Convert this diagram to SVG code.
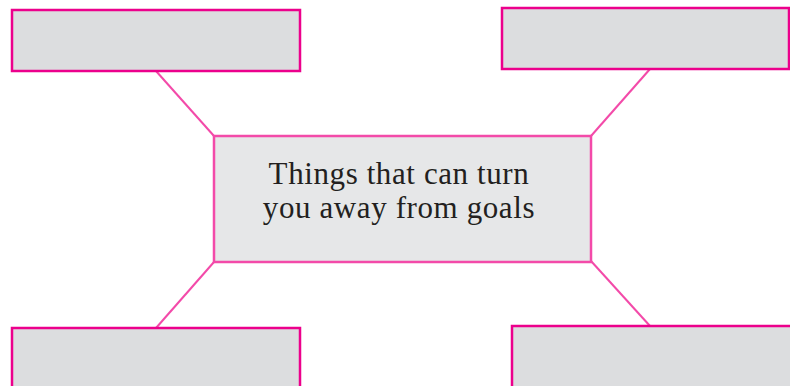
<svg xmlns="http://www.w3.org/2000/svg" width="790" height="386" viewBox="0 0 790 386">
<style>
.box{fill:#dcdddf;stroke:#ec008c;stroke-width:2.5}
.center{fill:#e6e7e8;stroke:#f34aa9;stroke-width:2.5}
.conn{stroke:#f34aa9;stroke-width:2;fill:none}
.label{font-family:"Liberation Serif","Times New Roman",serif;font-size:31px;letter-spacing:0.6px;fill:#231f20;text-anchor:middle}
</style>
<rect width="790" height="386" fill="#ffffff"/>
<g id="connectors">
<line class="conn" x1="156" y1="71" x2="214" y2="136"/>
<line class="conn" x1="650" y1="69" x2="591" y2="136"/>
<line class="conn" x1="214" y1="262" x2="156" y2="328"/>
<line class="conn" x1="591" y1="261" x2="650" y2="326"/>
</g>
<g id="box-top-left"><rect class="box" x="12" y="10" width="288" height="61"/></g>
<g id="box-top-right"><rect class="box" x="502" y="8" width="287" height="61"/></g>
<g id="box-bottom-left"><rect class="box" x="12" y="328" width="288" height="70"/></g>
<g id="box-bottom-right"><rect class="box" x="512" y="326" width="290" height="70"/></g>
<g id="center">
<rect class="center" x="214" y="136" width="377" height="126"/>
<text class="label" x="399" y="184">Things that can turn</text>
<text class="label" x="399" y="218">you away from goals</text>
</g>
</svg>
